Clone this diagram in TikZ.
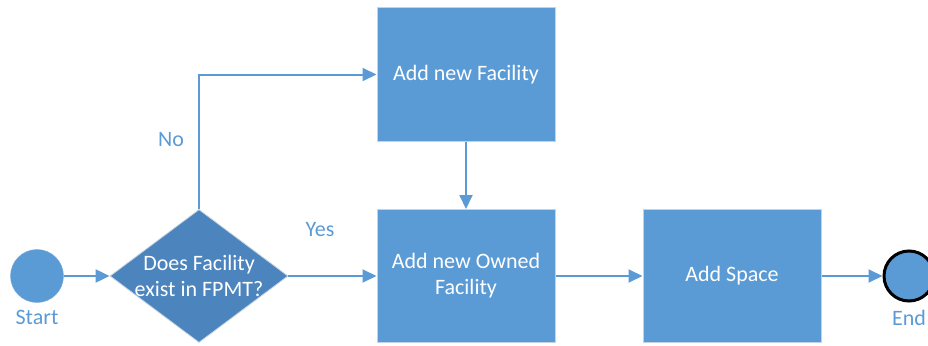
\documentclass[tikz,border=0pt]{standalone}
\usepackage{fontspec}
\setmainfont{Carlito}
\usetikzlibrary{positioning,shapes.geometric,arrows.meta}
\definecolor{flowblue}{RGB}{91,155,213}
\definecolor{flowdark}{RGB}{76,132,190}
\definecolor{flowedge}{RGB}{196,210,226}

\begin{document}
\begin{tikzpicture}[x=1pt,y=-1pt,
  every node/.style={font=\fontsize{22}{26}\selectfont},
  task/.style={rectangle,fill=flowblue,draw=flowedge,line width=1pt,
    minimum width=178pt,minimum height=133pt,text=white,align=center},
  decision/.style={diamond,fill=flowdark,draw=flowedge,line width=0.8pt,
    minimum width=178pt,minimum height=133pt,inner sep=0pt},
  event/.style={circle,fill=flowblue,minimum size=53pt,inner sep=0pt},
  flow/.style={draw=flowblue,line width=2pt,-{Triangle[length=14pt,width=13pt]}},
  tag/.style={text=flowblue}]
\useasboundingbox (0,0) rectangle (928,345);

% events
\node[event,draw=flowblue!85] (start) at (37,276) {};
\node[event,draw=black,line width=3pt,minimum size=50pt] (end) at (909,276) {};
\node[tag,below=4pt of start] (startlbl) {Start};
\node[tag,below=4pt of end] (endlbl) {End};

% decision
\node[decision] (check) at (199,276) {};
\node[text=white,align=center] (checktxt) at (check.center) {Does Facility\\exist in FPMT?};

% tasks
\node[task] (newfac) at (466,74.5) {Add new Facility};
\node[task] (ownfac) at (466,276) {Add new Owned\\Facility};
\node[task] (space) at (732,276) {Add Space};

% connectors
\draw[flow] (start) -- (check.west);
\draw[flow] (check.north) |- (newfac.west);
\draw[flow] (check.east) -- (ownfac.west);
\draw[flow] (newfac.south) -- (ownfac.north);
\draw[flow] (ownfac.east) -- (space.west);
\draw[flow] (space.east) -- (end);

\node[tag] (nolbl) at (171,140) {No};
\node[tag] (yeslbl) at (320,230) {Yes};
\end{tikzpicture}
\end{document}
